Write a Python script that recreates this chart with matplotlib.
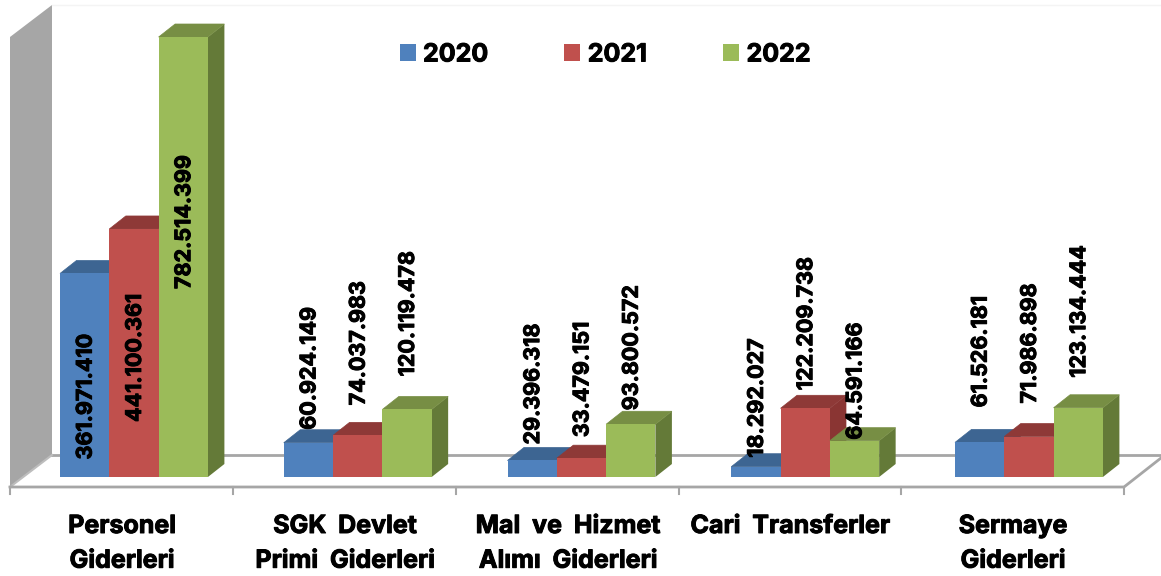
import matplotlib
matplotlib.use('Agg')
import matplotlib.pyplot as plt
import matplotlib.patheffects as pe
from matplotlib.patches import Patch
import numpy as np

plt.rcParams['font.family'] = ['Inter', 'DejaVu Sans']
plt.rcParams['font.weight'] = 'bold'

categories = ['Personel\nGiderleri', 'SGK  Devlet\nPrimi  Giderleri', 'Mal  ve  Hizmet\nAlımı  Giderleri',
              'Cari  Transferler', 'Sermaye\nGiderleri']
years = ['2020', '2021', '2022']
values_2020 = [361971410, 60924149, 29396318, 18292027, 61526181]
values_2021 = [441100361, 74037983, 33479151, 122209738, 71986898]
values_2022 = [782514399, 120119478, 93800572, 64591166, 123134444]
series = [values_2020, values_2021, values_2022]

front_colors = ['#4F81BD', '#C0504D', '#9BBB59']
top_colors = ['#3D6592', '#8E3937', '#778E44']
side_colors = ['#3A6088', '#8A3533', '#647A38']

W, H = 1161, 576
# scales: one x unit is one group, y unit is the value
px_per_group = 223.75
val_per_px = (782514399) / 440.0
base_px = 477

fig = plt.figure(figsize=(W / 100, H / 100), dpi=100)
ax = fig.add_axes([0, 0, 1, 1])
ax.set_xlim(0, W / px_per_group)
ax.set_ylim(-(H - base_px) * val_per_px, base_px * val_per_px)
ax.axis('off')

dx = 16.5 / px_per_group      # depth of the bars
dy = 13 * val_per_px
bar_w = 49.3 / px_per_group
first = 60 / px_per_group
heavy = [pe.withStroke(linewidth=0.7, foreground='black')]


def X(p):
    return p / px_per_group


def Y(p):
    return (base_px - p) * val_per_px


# wall and floor
grey = '#A6A6A6'
ax.fill([X(10), X(52), X(52), X(10)], [Y(37), Y(5), Y(455), Y(487)], color=grey, lw=0, zorder=1)
ax.plot([X(52), X(1161)], [Y(5), Y(5)], color='#F4F4F4', lw=1, zorder=1)
ax.plot([X(52), X(1161)], [Y(455), Y(455)], color=grey, lw=2, zorder=1)
ax.plot([X(10), X(52)], [Y(487), Y(455)], color='#BDBDBD', lw=1.5, zorder=1)
ax.plot([X(10), X(1124), X(1161)], [Y(487), Y(487), Y(458)], color=grey, lw=2, zorder=1)
for t in np.linspace(10.5, 1124, 6):
    ax.plot([X(t), X(t)], [Y(487), Y(494)], color=grey, lw=1.5, zorder=1)

# bars, left to right so that the next one covers the side of the last
for i in range(len(categories)):
    for j in range(3):
        v = series[j][i]
        x0 = first + i + j * bar_w
        x1 = x0 + bar_w
        z = 3 + j
        ax.fill([x1, x1 + dx, x1 + dx, x1], [0, dy, v + dy, v], color=side_colors[j], lw=0, zorder=z)
        ax.fill([x0, x1, x1 + dx, x0 + dx], [v, v, v + dy, v + dy], color=top_colors[j], lw=0.5, zorder=z)
        ax.bar(x0, v, width=bar_w, align='edge', color=front_colors[j], lw=0, zorder=z)

# data labels: gap between the bar top and the start of the text, in px
label_gaps = [
    [-186, -193, -252],
    [13, 30, 33],
    [16, 21, 14],
    [9, 18, 1],
    [35, 33, 30],
]
for i in range(len(categories)):
    for j in range(3):
        v = series[j][i]
        x = first + i + (j + 0.5) * bar_w + X(1)
        txt = f'{v:,}'.replace(',', '.')
        ax.text(x, v + label_gaps[i][j] * val_per_px, txt, rotation=90, ha='center', va='bottom',
                fontsize=15.5, color='black', zorder=10, path_effects=heavy)

# category labels
centers = [122, 345, 568, 790, 1013]
for c, name in zip(centers, categories):
    ax.text(X(c), Y(515), name, ha='center', va='top', fontsize=18, color='black', linespacing=1.65, zorder=10,
            path_effects=heavy)

handles = [Patch(color=c, lw=0) for c in front_colors]
leg = fig.legend(handles, years, loc='center', bbox_to_anchor=(605 / W, 1 - 55 / H), ncol=3, frameon=False,
                 handlelength=0.64, handleheight=0.64, handletextpad=0.3, columnspacing=3.05,
                 prop={'family': 'Inter', 'weight': 'bold', 'size': 18})
for t in leg.get_texts():
    t.set_path_effects(heavy)

fig.savefig('out.png', dpi=100)
